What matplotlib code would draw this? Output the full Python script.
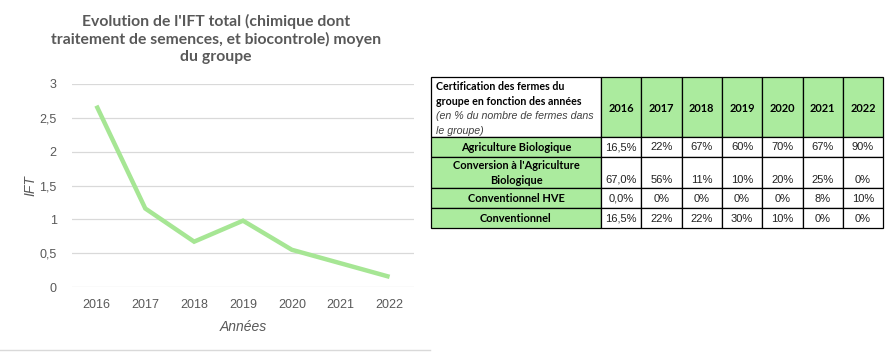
import matplotlib
matplotlib.use("Agg")
import matplotlib.pyplot as plt
from matplotlib.patches import Rectangle

# ---------------- data ----------------
years = ["2016", "2017", "2018", "2019", "2020", "2021", "2022"]
ift = [2.68, 1.16, 0.67, 0.98, 0.55, 0.35, 0.15]
yticks = [0, 0.5, 1, 1.5, 2, 2.5, 3]
ytick_labels = ["0", "0,5", "1", "1,5", "2", "2,5", "3"]
title = "Evolution de l'IFT total (chimique dont\ntraitement de semences, et biocontrole) moyen\ndu groupe"

row_labels = ["Agriculture Biologique", "Conversion à l'Agriculture\nBiologique",
              "Conventionnel HVE", "Conventionnel"]
agri_bio = ["16,5%", "22%", "67%", "60%", "70%", "67%", "90%"]
conversion = ["67,0%", "56%", "11%", "10%", "20%", "25%", "0%"]
conv_hve = ["0,0%", "0%", "0%", "0%", "0%", "8%", "10%"]
conventionnel = ["16,5%", "22%", "22%", "30%", "10%", "0%", "0%"]
table_values = [agri_bio, conversion, conv_hve, conventionnel]
header_bold = ["Certification des fermes du", "groupe en fonction des années"]
header_italic = ["(en % du nombre de fermes dans", "le groupe)"]

# ---------------- style ----------------
W, H = 885, 352
fig = plt.figure(figsize=(W / 100, H / 100), dpi=100)
fig.patch.set_facecolor("white")
line_col = "#a6e694"
cell_green = "#abeb9e"
grey = "#595959"
tick_font = ["Liberation Sans", "DejaVu Sans"]
bold_font = ["Lato", "DejaVu Sans"]

# ---------------- line chart ----------------
ax = fig.add_axes([72 / W, 1 - 287 / H, (414 - 72) / W, (287 - 84) / H])
x = list(range(len(years)))
ax.plot(x, ift, color=line_col, lw=3.2, solid_capstyle="butt", solid_joinstyle="miter")
ax.set_xlim(-0.5, len(years) - 0.5)
ax.set_ylim(0, 3)
ax.set_xticks(x)
ax.set_xticklabels(years, fontsize=9, color=grey, family=tick_font)
ax.set_yticks(yticks)
ax.set_yticklabels(ytick_labels, fontsize=9, color=grey, family=tick_font)
ax.tick_params(length=0, pad=9)
ax.tick_params(axis="y", pad=11)
ax.grid(axis="y", color="#d9d9d9", lw=0.9)
ax.set_axisbelow(True)
for s in ax.spines.values():
    s.set_visible(False)
ax.set_xlabel("Années", fontsize=10, color=grey, style="italic", family=tick_font, labelpad=6)
ax.set_ylabel("IFT", fontsize=10, color=grey, style="italic", family=tick_font)
ax.yaxis.set_label_coords(-0.10, 0.5)

fig.text(216 / W, 1 - 39 / H, title, ha="center", va="center", fontsize=11.3,
         fontweight="bold", color=grey, family=bold_font, linespacing=1.25)

# ---------------- overlay for table ----------------
tax = fig.add_axes([0, 0, 1, 1])
tax.set_xlim(0, W)
tax.set_ylim(H, 0)
tax.axis("off")

# bottom separator of chart frame
tax.plot([0, 430], [350, 350], color="#d9d9d9", lw=1)

x0 = 431
first_w = 170
col_w = 40.3
y0 = 77
row_h = [60, 20, 31, 20, 20]
col_x = [x0, x0 + first_w] + [x0 + first_w + col_w * (i + 1) for i in range(len(years))]
row_y = [y0]
for h in row_h:
    row_y.append(row_y[-1] + h)

lw = 0.9
# header cells
tax.add_patch(Rectangle((col_x[0], row_y[0]), first_w, row_h[0], facecolor="white",
                        edgecolor="black", lw=lw))
for j, yr in enumerate(years):
    tax.add_patch(Rectangle((col_x[j + 1], row_y[0]), col_w, row_h[0], facecolor=cell_green,
                            edgecolor="black", lw=lw))
    tax.text(col_x[j + 1] + col_w / 2, row_y[0] + row_h[0] / 2 + 1, yr, ha="center",
             va="center", fontsize=7.9, fontweight="bold", color="black", family=bold_font)
line_step = 14.7
for k, t in enumerate(header_bold):
    tax.text(col_x[0] + 5, row_y[0] + 10 + k * line_step, t, ha="left", va="center",
             fontsize=7.7, fontweight="bold", color="black", family=bold_font)
for k, t in enumerate(header_italic):
    tax.text(col_x[0] + 5, row_y[0] + 10 + (k + 2) * line_step, t, ha="left", va="center",
             fontsize=7.7, style="italic", color="#404040", family=tick_font)

for i, (lab, vals) in enumerate(zip(row_labels, table_values)):
    r = i + 1
    top, h = row_y[r], row_h[r]
    tax.add_patch(Rectangle((col_x[0], top), first_w, h, facecolor=cell_green,
                            edgecolor="black", lw=lw))
    tax.text(col_x[0] + first_w / 2, top + h / 2 + 0.5, lab, ha="center", va="center",
             fontsize=7.9, fontweight="bold", color="black", family=bold_font,
             linespacing=1.5)
    for j, v in enumerate(vals):
        tax.add_patch(Rectangle((col_x[j + 1], top), col_w, h, facecolor="white",
                                edgecolor="black", lw=lw))
        if "\n" in lab:
            ty, va = top + h - 3, "bottom"
        else:
            ty, va = top + h / 2 + 0.5, "center"
        tax.text(col_x[j + 1] + col_w / 2, ty, v, ha="center", va=va, fontsize=8,
                 color="#222222", family=tick_font)

fig.savefig("out.png", dpi=100, facecolor="white")
